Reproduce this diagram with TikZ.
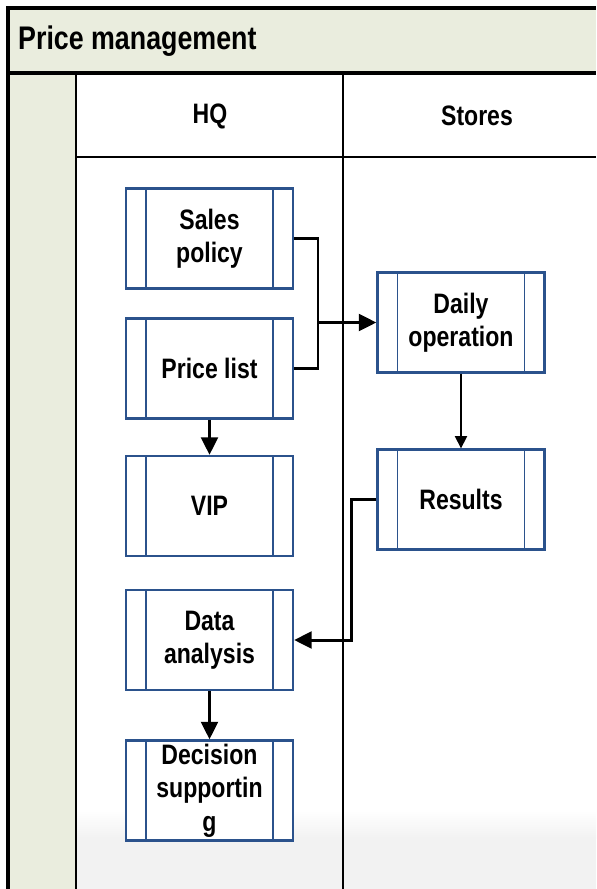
\documentclass[tikz,border=0pt]{standalone}
\usepackage{fontspec}
\setmainfont{Liberation Sans}[FakeStretch=0.82]
\usetikzlibrary{arrows.meta}
\definecolor{laneband}{RGB}{234,237,222}
\definecolor{procblue}{RGB}{43,82,140}
\definecolor{shadegray}{RGB}{242,242,242}

\begin{document}
\begin{tikzpicture}[x=0.02cm,y=-0.02cm,
  proc/.style={draw=procblue, line width=1.3pt, fill=white,
    minimum width=3.34cm, minimum height=2.0cm, inner sep=0pt, align=center,
    font=\fontsize{16}{19}\selectfont\bfseries,
    path picture={
      \draw[procblue, line width=1.1pt] ([xshift=0.4cm]path picture bounding box.north west)
        -- ([xshift=0.4cm]path picture bounding box.south west);
      \draw[procblue, line width=1.1pt] ([xshift=-0.4cm]path picture bounding box.north east)
        -- ([xshift=-0.4cm]path picture bounding box.south east);}},
  lanehead/.style={font=\fontsize{16}{18}\selectfont\bfseries},
  flow/.style={line width=1.7pt, -{Triangle[length=10pt,width=9.5pt]}},
  thinflow/.style={line width=0.6pt, -{Triangle[length=7pt,width=7pt]}}]
\useasboundingbox (0,0) rectangle (596,889);
\fill[white] (0,0) rectangle (596,889);
% shadow at the foot of the lanes
\shade[top color=white, bottom color=shadegray] (76,810) rectangle (596,838);
\fill[shadegray] (76,838) rectangle (596,889);
% pool header and side strip
\fill[laneband] (8,8) rectangle (596,73);
\fill[laneband] (8,73) rectangle (76,889);
\draw[line width=2pt] (8,889) -- (8,8) -- (596,8);
\draw[line width=2pt] (8,73) -- (596,73);
\draw[line width=1.7pt] (76,73) -- (76,889);
\draw[line width=0.6pt] (76,157) -- (596,157);
\draw[line width=0.6pt] (343,73) -- (343,889);
\node[anchor=west, font=\fontsize{18.6}{20}\selectfont\bfseries] (title) at (12,41) {Price management};
\node[lanehead] (hq) at (210,116) {HQ};
\node[lanehead] (stores) at (477,116) {Stores};
% HQ lane
\node[proc] (sales) at (209.5,238.5) {Sales\\policy};
\node[proc] (price) at (209.5,368.5) {Price list};
\node[proc] (vip) at (209.5,506) {VIP};
\node[proc] (data) at (209.5,640) {Data\\analysis};
\node[proc] (decision) at (209.5,790.5) {Decision\\supportin\\g};
% Stores lane
\node[proc] (daily) at (461,322.5) {Daily\\operation};
\node[proc] (results) at (461,499.5) {Results};
% connectors
\coordinate (join) at (318,322.5);
\draw[line width=1.7pt] (sales.east) -| (join);
\draw[line width=1.7pt] (price.east) -| (join);
\draw[flow] (join) -- (daily.west);
\draw[flow] (price) -- (vip);
\draw[thinflow] (daily) -- (results);
\draw[flow] (results.west) -- ++(-25,0) |- (data.east);
\draw[flow] (data) -- (decision);
\end{tikzpicture}
\end{document}
